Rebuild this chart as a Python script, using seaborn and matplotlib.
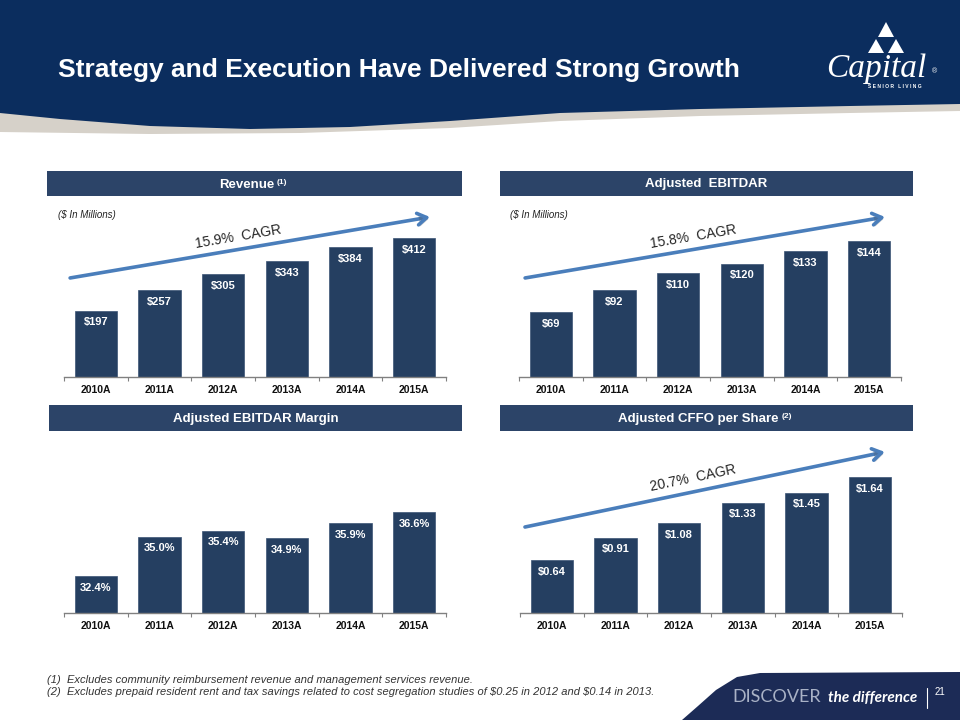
import numpy as np
import pandas as pd
import matplotlib.pyplot as plt
import matplotlib.patheffects as pe
from matplotlib.patches import Polygon, Rectangle
import seaborn as sns

# Data
years = ["2010A", "2011A", "2012A", "2013A", "2014A", "2015A"]
revenue = [197, 257, 305, 343, 384, 412]
ebitdar = [69, 92, 110, 120, 133, 144]
ebitdar_margin = [32.4, 35.0, 35.4, 34.9, 35.9, 36.6]
cffo_per_share = [0.64, 0.91, 1.08, 1.33, 1.45, 1.64]

revenue_labels = [f"${v}" for v in revenue]
ebitdar_labels = [f"${v}" for v in ebitdar]
margin_labels = [f"{v:.1f}%" for v in ebitdar_margin]
cffo_labels = [f"${v:.2f}" for v in cffo_per_share]

NAVY = "#0b2d5e"
BAR = "#253f61"
HEADER = "#2c4468"
ARROW = "#4a7ebb"
FOOT_NAVY = "#1c2b56"

W, H = 960, 720

sns.set_theme(style="white")
plt.rcParams["font.family"] = ["Liberation Sans", "DejaVu Sans"]


def px_rect(left, top, right, bottom):
    return [left / W, 1 - bottom / H, (right - left) / W, (bottom - top) / H]


fig = plt.figure(figsize=(9.6, 7.2), dpi=100)
fig.patch.set_facecolor("white")

# background layer in pixel coordinates
bg = fig.add_axes([0, 0, 1, 1])
bg.set_xlim(0, W)
bg.set_ylim(H, 0)
bg.axis("off")

# header band with swoosh
gray_edge = [(960, 111), (850, 113), (700, 116), (560, 121), (450, 128),
             (300, 133), (150, 134), (0, 132)]
navy_edge = [(960, 104), (850, 106), (700, 109), (560, 113), (450, 121),
             (350, 127), (250, 129), (150, 126), (60, 119), (0, 113)]
bg.add_patch(Polygon([(0, 0), (960, 0)] + gray_edge, closed=True,
                     facecolor="#d6d1c9", edgecolor="none"))
bg.add_patch(Polygon([(0, 0), (960, 0)] + navy_edge, closed=True,
                     facecolor=NAVY, edgecolor="none"))

bg.text(58, 70, "Strategy and Execution Have Delivered Strong Growth",
        color="white", fontsize=19, fontweight="bold", ha="left", va="center")

# logo
for tri in [[(886, 22), (878, 37), (894, 37)],
            [(876, 39), (868, 53), (884, 53)],
            [(896, 39), (888, 53), (904, 53)]]:
    bg.add_patch(Polygon(tri, closed=True, facecolor="white", edgecolor="none"))
bg.text(876, 69, "Capital", color="white", fontsize=24, style="italic",
        family=["Liberation Serif", "DejaVu Serif"], ha="center", va="center")
bg.text(935, 72, "®", color="white", fontsize=5, ha="center", va="center")
bg.text(895, 86, "S E N I O R   L I V I N G", color="white", fontsize=3.6,
        fontweight="bold", ha="center", va="center")

# section headers
headers = [
    ((47, 171, 462, 196), "Revenue", "(1)"),
    ((500, 171, 913, 196), "Adjusted  EBITDAR", None),
    ((49, 405, 462, 431), "Adjusted EBITDAR Margin", None),
    ((500, 405, 913, 431), "Adjusted CFFO per Share", "(2)"),
]
for (l, t, r, b), title, sup in headers:
    bg.add_patch(Rectangle((l, t), r - l, b - t, facecolor=HEADER, edgecolor="none"))
    cx = (l + r) / 2 - (8 if sup else 0)
    txt = bg.text(cx, (t + b) / 2 + 1, title, color="white", fontsize=9.5,
                  fontweight="bold", ha="center", va="center")
    if sup:
        bg.annotate(sup, xy=(1, 1), xycoords=txt, xytext=(2, 0),
                    textcoords="offset points", ha="left", va="top",
                    color="white", fontsize=6, fontweight="bold")

bg.text(58, 215, "($ In Millions)", fontsize=7, style="italic", color="#222222",
        ha="left", va="center")
bg.text(510, 215, "($ In Millions)", fontsize=7, style="italic", color="#222222",
        ha="left", va="center")


def panel(rect, values, labels, ylim, cagr=None):
    ax = fig.add_axes(px_rect(*rect))
    ax.patch.set_alpha(0)
    df = pd.DataFrame({"year": years, "value": values})
    sns.barplot(data=df, x="year", y="value", ax=ax, color=BAR, saturation=1,
                width=0.66, edgecolor="#3b5475", linewidth=0.5)
    ax.set_xlim(-0.5, 5.5)
    ax.set_ylim(*ylim)
    ax.bar_label(ax.containers[0], labels=labels, padding=-12, color="white",
                 fontsize=8, fontweight="bold")
    sns.despine(ax=ax, left=True)
    ax.spines["bottom"].set_color("#808080")
    ax.spines["bottom"].set_linewidth(1)
    ax.set_yticks([])
    ax.set_xlabel("")
    ax.set_ylabel("")
    ax.set_xticks(np.arange(-0.5, 6, 1), minor=True)
    ax.tick_params(axis="x", which="major", length=0, pad=6, labelsize=7.5,
                   labelcolor="#111111")
    ax.tick_params(axis="x", which="minor", bottom=True, length=3, width=0.8,
                   color="#808080")
    for lbl in ax.get_xticklabels():
        lbl.set_fontweight("bold")
    if cagr:
        text, start, end, tpos, angle = cagr
        ann = ax.annotate("", xy=end, xytext=start, xycoords="axes fraction",
                          arrowprops=dict(arrowstyle="->,head_length=0.55,head_width=0.35",
                                          color=ARROW, lw=2.6, shrinkA=0, shrinkB=0),
                          annotation_clip=False)
        ann.arrow_patch.set_path_effects(
            [pe.SimplePatchShadow(offset=(1.2, -1.2), alpha=0.25), pe.Normal()])
        ax.text(tpos[0], tpos[1], text, transform=ax.transAxes, rotation=angle,
                rotation_mode="anchor", ha="center", va="center", fontsize=10,
                color="#262626")
    return ax


panel((64, 210, 446, 377), revenue, revenue_labels, (0, 495),
      ("15.9%  CAGR", (0.016, 0.593), (0.958, 0.958), (0.455, 0.838), 9.6))
panel((519, 210, 901, 377), ebitdar, ebitdar_labels, (0, 176.9),
      ("15.8%  CAGR", (0.016, 0.593), (0.958, 0.958), (0.455, 0.838), 9.6))
panel((64, 450, 446, 613), ebitdar_margin, margin_labels, (30, 40.7))
panel((520, 440, 902, 613), cffo_per_share, cffo_labels, (0, 2.087),
      ("20.7%  CAGR", (0.013, 0.497), (0.955, 0.931), (0.453, 0.780), 11.8))

# footnotes
bg.text(47, 680, "(1)  Excludes community reimbursement revenue and management services revenue.",
        fontsize=8, style="italic", color="#333333", ha="left", va="center")
bg.text(47, 692, "(2)  Excludes prepaid resident rent and tax savings related to cost segregation "
        "studies of \\$0.25 in 2012 and \\$0.14 in 2013.",
        fontsize=8, style="italic", color="#333333", ha="left", va="center")

# footer tab
bg.add_patch(Polygon([(682, 720), (698, 706), (716, 690), (737, 677), (760, 673),
                      (960, 672), (960, 720)], closed=True,
                     facecolor=FOOT_NAVY, edgecolor="none"))
bg.text(732, 697, "DISCOVER", color="#a9b2c6", fontsize=13,
        family=["Lato", "DejaVu Sans"], ha="left", va="center")
bg.text(828, 698, "the difference", color="white", fontsize=11, style="italic",
        fontweight="bold", family=["Lato", "DejaVu Sans"], ha="left", va="center")
bg.plot([927, 927], [688, 708], color="white", lw=0.8)
bg.text(935, 692, "21", color="white", fontsize=7, ha="left", va="center")

fig.savefig("out.png", dpi=100)
